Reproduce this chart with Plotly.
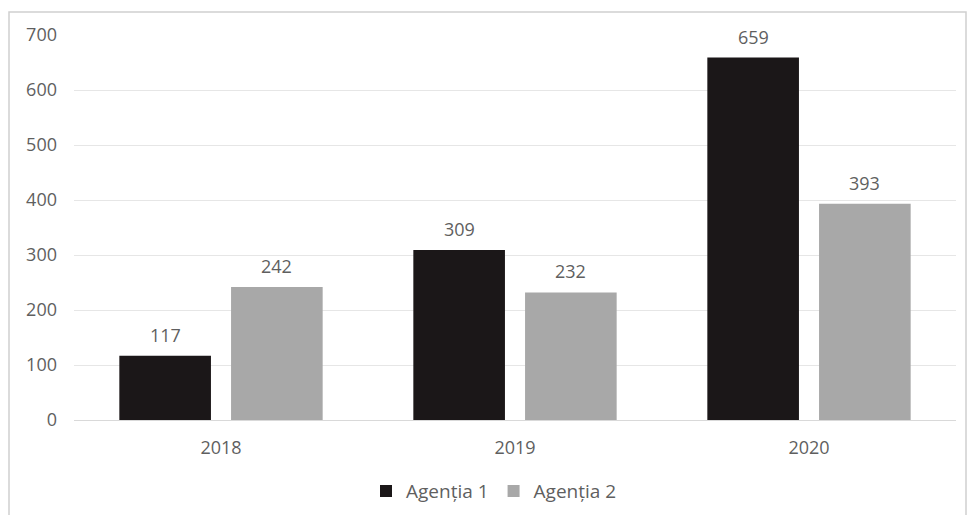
import plotly.graph_objects as go

years = ["2018", "2019", "2020"]
agentia1 = [117, 309, 659]
agentia2 = [242, 232, 393]
series_names = ["Agenția 1", "Agenția 2"]
y_ticks = [0, 100, 200, 300, 400, 500, 600, 700]

FONT = "Open Sans"
TXT = "#5f5f5f"
FS = 18

L, R, T, B = 74, 12, 35, 95
W, H = 968, 515
pw = W - L - R
ph = H - T - B

BARGAP = 0.24
GROUPGAP = 0.18
cat_px = pw / len(years)
slot_px = cat_px * (1 - BARGAP) / 2

fig = go.Figure()
colors = ["#1b1718", "#a8a8a8"]
for name, vals, col in zip(series_names, [agentia1, agentia2], colors):
    fig.add_trace(go.Bar(
        x=years, y=vals, name=name,
        marker=dict(color=col, line=dict(width=0)),
    ))

annotations = []
for i, vals in enumerate([agentia1, agentia2]):
    shift = (i - 0.5) * slot_px
    for j, v in enumerate(vals):
        annotations.append(dict(
            x=j, y=v, xref="x", yref="y", text=str(v), showarrow=False,
            xshift=shift, yshift=7, yanchor="bottom", xanchor="center",
            font=dict(family=FONT, size=FS, color=TXT),
        ))

fig.update_layout(
    width=W, height=H,
    margin=dict(l=L, r=R, t=T, b=B, autoexpand=False),
    paper_bgcolor="white", plot_bgcolor="white",
    barmode="group", bargap=BARGAP, bargroupgap=GROUPGAP,
    font=dict(family=FONT, size=FS, color=TXT),
    showlegend=True,
    legend=dict(orientation="h", x=(494 - L) / pw, xanchor="center", y=-0.185,
                yanchor="middle", font=dict(family=FONT, size=19, color=TXT),
                itemwidth=30, traceorder="normal"),
    xaxis=dict(type="category", range=[-0.5, len(years) - 0.5], showgrid=False,
               showline=True, linecolor="#d9d9d9", automargin=False,
               linewidth=1, ticks="", tickfont=dict(family=FONT, size=FS, color=TXT),
               ticklabelstandoff=11),
    yaxis=dict(range=[0, 700], tickvals=y_ticks, showgrid=True, gridcolor="#e6e6e6",
               gridwidth=1, zeroline=False, showline=False, ticks="", automargin=False,
               tickfont=dict(family=FONT, size=FS, color=TXT), ticklabelstandoff=16),
    annotations=annotations,
    shapes=[dict(type="rect", xref="paper", yref="paper",
                 x0=(9 - L) / pw, x1=(966 - L) / pw,
                 y0=(H - 525 - B) / ph, y1=(H - 12 - B) / ph,
                 line=dict(color="#d0d0d0", width=1.5), fillcolor="rgba(0,0,0,0)",
                 layer="below")],
)

fig.write_html("out.html")
